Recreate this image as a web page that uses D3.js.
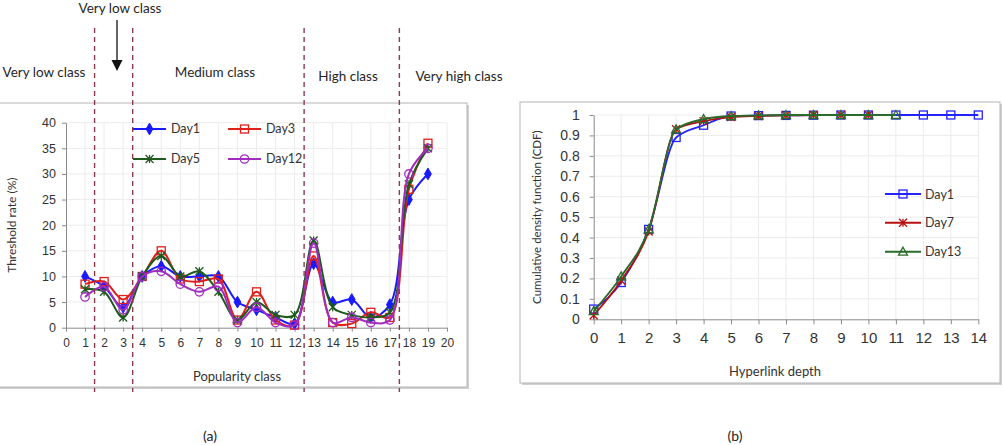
<!DOCTYPE html>
<html>
<head>
<meta charset="utf-8">
<script src="https://cdn.jsdelivr.net/npm/d3@7"></script>
<style>
  body { margin: 0; background: #fff; }
  svg { font-family: Lato, "Open Sans", sans-serif; }
  .grid line { stroke: #ececec; }
  .axis path, .axis line { stroke: #8a8a8a; }
  .axis text { fill: #333; }
</style>
</head>
<body>
<div id="vis"></div>
<script>
// ---- chart (a): threshold rate by popularity class ----
var classes = d3.range(1, 20);
var day1  = [10, 8, 4, 10, 12, 10, 10, 10, 5, 3.5, 2, 0.8, 12.5, 5, 5.5, 2, 4.5, 25, 30];
var day3  = [8.5, 9, 5.5, 10, 15, 9.5, 9, 9.5, 1.5, 7, 1.5, 0.5, 14, 1, 0.8, 3, 2, 27, 36];
var day5  = [7.5, 7, 2, 10, 14, 10, 11, 7, 1.5, 5, 2.5, 2.5, 17, 4, 2.5, 2, 3, 28, 35];
var day12 = [6, 8, 3.5, 10, 11, 8.5, 7, 8, 1, 4, 1, 0.5, 16.5, 1, 2, 1, 1.5, 30, 35];
var classBounds = [1.5, 3.5, 12.5, 17.5];

// ---- chart (b): CDF by hyperlink depth ----
var cdfDay1  = [0.05, 0.18, 0.44, 0.89, 0.95, 0.995, 0.997, 0.998, 0.999, 1, 1, 1, 1, 1, 1];
var cdfDay7  = [0.02, 0.19, 0.43, 0.93, 0.97, 0.99, 0.995, 0.998, 1, 1, 1];
var cdfDay13 = [0.04, 0.21, 0.44, 0.93, 0.98, 0.995, 0.998, 1, 1, 1, 1, 1];

var svg = d3.select('#vis').append('svg')
    .attr('width', 1003).attr('height', 445);

// asterisk marker (x with vertical bar)
function starPath(s) {
  return 'M' + -s + ',' + -s + 'L' + s + ',' + s +
         'M' + -s + ',' + s + 'L' + s + ',' + -s +
         'M0,' + -s + 'L0,' + s;
}

function drawMarker(g, type, color, x, y) {
  if (type === 'diamond') {
    g.append('path').attr('d', d3.symbol(d3.symbolDiamond, 40)())
        .attr('transform', 'translate(' + x + ',' + y + ')')
        .attr('fill', color).attr('stroke', color);
  } else if (type === 'square') {
    g.append('rect').attr('x', x - 4).attr('y', y - 4)
        .attr('width', 8).attr('height', 8)
        .attr('fill', 'none').attr('stroke', color).attr('stroke-width', 1.3);
  } else if (type === 'circle') {
    g.append('circle').attr('cx', x).attr('cy', y).attr('r', 4.2)
        .attr('fill', 'none').attr('stroke', color).attr('stroke-width', 1.3);
  } else if (type === 'star') {
    g.append('path').attr('d', starPath(4))
        .attr('transform', 'translate(' + x + ',' + y + ')')
        .attr('fill', 'none').attr('stroke', color).attr('stroke-width', 1.3);
  } else if (type === 'triangle') {
    g.append('path').attr('d', 'M0,-4.5L4.5,3.5L-4.5,3.5Z')
        .attr('transform', 'translate(' + x + ',' + y + ')')
        .attr('fill', 'none').attr('stroke', color).attr('stroke-width', 1.3);
  }
}

function frame(x, y, w, h) {
  svg.append('rect').attr('x', x + 2).attr('y', y + 2).attr('width', w).attr('height', h)
      .attr('fill', '#d0d0d0');
  svg.append('rect').attr('x', x).attr('y', y).attr('width', w).attr('height', h)
      .attr('fill', '#fff').attr('stroke', '#b4b4b4');
}

// ===== chart (a) =====
frame(-5, 103, 472, 284);

var xA = d3.scaleLinear().domain([0, 20]).range([66, 447]);
var yA = d3.scaleLinear().domain([0, 40]).range([327.7, 122.7]);

var gA = svg.append('g');
gA.append('g').attr('class', 'grid')
    .selectAll('line.h').data(d3.range(5, 45, 5)).enter().append('line')
    .attr('x1', xA(0)).attr('x2', xA(20))
    .attr('y1', d => yA(d)).attr('y2', d => yA(d));
gA.append('g').attr('class', 'grid')
    .selectAll('line.v').data(d3.range(1, 21)).enter().append('line')
    .attr('x1', d => xA(d)).attr('x2', d => xA(d))
    .attr('y1', yA(0)).attr('y2', yA(40));

gA.append('g').attr('class', 'axis')
    .attr('transform', 'translate(0,' + yA(0) + ')')
    .call(d3.axisBottom(xA).ticks(20).tickSize(4).tickSizeOuter(0).tickPadding(7))
    .selectAll('text').style('font-size', '12px');
gA.append('g').attr('class', 'axis')
    .attr('transform', 'translate(' + xA(0) + ',0)')
    .call(d3.axisLeft(yA).tickValues(d3.range(0, 45, 5)).tickSize(4).tickSizeOuter(0).tickPadding(6))
    .selectAll('text').style('font-size', '12.5px');

var seriesA = [
  {name: 'Day1', values: day1, color: '#1a1aff', marker: 'diamond'},
  {name: 'Day3', values: day3, color: '#e0201b', marker: 'square'},
  {name: 'Day5', values: day5, color: '#1e5a1e', marker: 'star'},
  {name: 'Day12', values: day12, color: '#a02cc0', marker: 'circle'}
];

var lineA = d3.line()
    .x((d, i) => xA(classes[i]))
    .y(d => yA(d))
    .curve(d3.curveCatmullRom.alpha(0.5));

seriesA.forEach(s => {
  var g = gA.append('g');
  g.append('path').attr('d', lineA(s.values))
      .attr('fill', 'none').attr('stroke', s.color).attr('stroke-width', 2);
  s.values.forEach((v, i) => drawMarker(g, s.marker, s.color, xA(classes[i]), yA(v)));
});

// legend (a)
var legA = [[133, 129], [228, 129], [133, 159], [228, 159]];
seriesA.forEach((s, i) => {
  var g = gA.append('g');
  var lx = legA[i][0], ly = legA[i][1];
  g.append('line').attr('x1', lx).attr('x2', lx + 33).attr('y1', ly).attr('y2', ly)
      .attr('stroke', s.color).attr('stroke-width', 2);
  drawMarker(g, s.marker, s.color, lx + 16.5, ly);
  g.append('text').attr('x', lx + 38).attr('y', ly + 4)
      .style('font-size', '12.5px').attr('fill', '#333').text(s.name);
});

gA.append('text')
    .attr('transform', 'translate(16,' + yA(20) + ') rotate(-90)')
    .attr('text-anchor', 'middle').style('font-size', '12px').attr('fill', '#333')
    .text('Threshold rate (%)');
gA.append('text').attr('x', 237).attr('y', 381)
    .attr('text-anchor', 'middle').style('font-size', '13px').attr('fill', '#333')
    .text('Popularity class');

// class boundaries
gA.selectAll('line.bound').data(classBounds).enter().append('line')
    .attr('x1', d => xA(d)).attr('x2', d => xA(d))
    .attr('y1', 28).attr('y2', 392)
    .attr('stroke', '#8b3a4e').attr('stroke-width', 1.4)
    .attr('stroke-dasharray', '5,4');

var classLabels = [
  {t: 'Very low class', x: 44, y: 77},
  {t: 'Medium class', x: 215, y: 77},
  {t: 'High class', x: 348, y: 81},
  {t: 'Very high class', x: 459, y: 81},
  {t: 'Very low class', x: 120, y: 13}
];
gA.selectAll('text.cls').data(classLabels).enter().append('text')
    .attr('x', d => d.x).attr('y', d => d.y)
    .attr('text-anchor', 'middle').style('font-size', '13.5px').attr('fill', '#262626')
    .text(d => d.t);

// arrow
gA.append('line').attr('x1', 117).attr('x2', 117).attr('y1', 20).attr('y2', 62)
    .attr('stroke', '#111').attr('stroke-width', 1.3);
gA.append('path').attr('d', 'M111.5,60L122.5,60L117,71Z').attr('fill', '#111');

svg.append('text').attr('x', 210).attr('y', 441).attr('text-anchor', 'middle')
    .style('font-size', '14px').attr('fill', '#222').text('(a)');

// ===== chart (b) =====
frame(520, 102, 480, 281);

var xB = d3.scaleLinear().domain([0, 14]).range([593.7, 978.3]);
var yB = d3.scaleLinear().domain([0, 1]).range([319.3, 115]);

var gB = svg.append('g');
gB.append('g').attr('class', 'grid')
    .selectAll('line').data(d3.range(1, 11).map(d => d / 10)).enter().append('line')
    .attr('x1', xB(0)).attr('x2', xB(14))
    .attr('y1', d => yB(d)).attr('y2', d => yB(d));
gB.append('g').attr('class', 'grid')
    .selectAll('line').data(d3.range(1, 15)).enter().append('line')
    .attr('x1', d => xB(d)).attr('x2', d => xB(d))
    .attr('y1', yB(0)).attr('y2', yB(1));

gB.append('g').attr('class', 'axis')
    .attr('transform', 'translate(0,' + yB(0) + ')')
    .call(d3.axisBottom(xB).ticks(14).tickSize(5).tickSizeOuter(0).tickPadding(8))
    .selectAll('text').style('font-size', '15px');
gB.append('g').attr('class', 'axis')
    .attr('transform', 'translate(' + xB(0) + ',0)')
    .call(d3.axisLeft(yB).tickValues(d3.range(0, 11).map(d => d / 10))
        .tickFormat(d3.format('~g')).tickSize(4).tickSizeOuter(0).tickPadding(10))
    .selectAll('text').style('font-size', '14px');

var seriesB = [
  {name: 'Day1', values: cdfDay1, color: '#2323ff', marker: 'square'},
  {name: 'Day7', values: cdfDay7, color: '#b81010', marker: 'star'},
  {name: 'Day13', values: cdfDay13, color: '#2a6a2a', marker: 'triangle'}
];

var lineB = d3.line()
    .x((d, i) => xB(i))
    .y(d => yB(d))
    .curve(d3.curveMonotoneX);

seriesB.forEach(s => {
  var g = gB.append('g');
  g.append('path').attr('d', lineB(s.values))
      .attr('fill', 'none').attr('stroke', s.color).attr('stroke-width', 1.8);
  s.values.forEach((v, i) => drawMarker(g, s.marker, s.color, xB(i), yB(v)));
});

var legB = [194, 222.7, 251.7];
seriesB.forEach((s, i) => {
  var g = gB.append('g');
  var lx = 885, ly = legB[i];
  g.append('line').attr('x1', lx).attr('x2', lx + 36).attr('y1', ly).attr('y2', ly)
      .attr('stroke', s.color).attr('stroke-width', 2);
  drawMarker(g, s.marker, s.color, lx + 18, ly);
  g.append('text').attr('x', lx + 40).attr('y', ly + 4.5)
      .style('font-size', '12.5px').attr('fill', '#333').text(s.name);
});

gB.append('text')
    .attr('transform', 'translate(541,' + yB(0.5) + ') rotate(-90)')
    .attr('text-anchor', 'middle').style('font-size', '11.5px').attr('fill', '#333')
    .text('Cumulative density function (CDF)');
gB.append('text').attr('x', 775).attr('y', 376)
    .attr('text-anchor', 'middle').style('font-size', '13px').attr('fill', '#333')
    .text('Hyperlink depth');

svg.append('text').attr('x', 735).attr('y', 441).attr('text-anchor', 'middle')
    .style('font-size', '14px').attr('fill', '#222').text('(b)');
</script>
</body>
</html>
